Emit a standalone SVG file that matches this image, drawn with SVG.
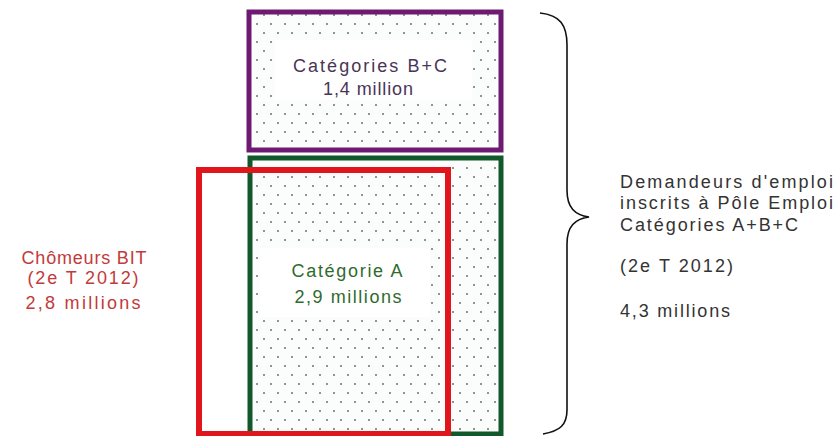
<svg xmlns="http://www.w3.org/2000/svg" width="834" height="436" viewBox="0 0 834 436">
<style>
text{font-family:"Liberation Sans",Arial,sans-serif;font-size:18px;text-anchor:middle}
.pt{fill:#4a3556}
.gt{fill:#2f6b2f}
.rt{fill:#c23a3a}
.kt{fill:#333;text-anchor:start}
.box{fill:url(#dots)}
.bg{fill:#fff}
</style>
<defs>
<pattern id="dots" patternUnits="userSpaceOnUse" width="14" height="18" x="3" y="4">
<rect width="14" height="18" fill="#fbfdfd"/>
<circle cx="2" cy="2" r="1" fill="#707070"/>
<circle cx="9" cy="11" r="1" fill="#707070"/>
</pattern>
</defs>
<rect width="834" height="436" fill="#fff"/>
<g id="bc">
<rect class="box" x="249" y="12" width="252" height="138"/>
<rect class="bg" x="275" y="40" width="197" height="60"/>
<rect x="249" y="12" width="252" height="138" fill="none" stroke="#6e1a72" stroke-width="5"/>
<text class="pt" x="370" y="72" textLength="154" lengthAdjust="spacing">Catégories B+C</text>
<text class="pt" x="368" y="95" textLength="90" lengthAdjust="spacing">1,4 million</text>
</g>
<g id="a">
<rect class="box" x="250" y="158" width="251" height="276"/>
<rect class="bg" x="260" y="248" width="170" height="69"/>
<rect x="250" y="158" width="251" height="276" fill="none" stroke="#11592a" stroke-width="5"/>
<text class="gt" x="347" y="277" textLength="111" lengthAdjust="spacing">Catégorie A</text>
<text class="gt" x="348" y="303" textLength="107" lengthAdjust="spacing">2,9 millions</text>
</g>
<g id="bit">
<rect x="199" y="170" width="249" height="264" fill="none" stroke="#e0161c" stroke-width="6"/>
<text class="rt" x="84" y="264" textLength="125" lengthAdjust="spacing">Chômeurs BIT</text>
<text class="rt" x="83" y="284" textLength="111" lengthAdjust="spacing">(2e T 2012)</text>
<text class="rt" x="83" y="309" textLength="115" lengthAdjust="spacing">2,8 millions</text>
</g>
<g id="connectors">
<path d="M540,13 C560,15 567,25 567,45 L567,190 C567,208 575,215 589,217 C575,219 567,226 567,244 L567,410 C567,425 560,431 543,434" fill="none" stroke="#111" stroke-width="1.6"/>
</g>
<g id="total">
<text class="kt" x="620" y="188" textLength="213" lengthAdjust="spacing">Demandeurs d'emploi</text>
<text class="kt" x="620" y="209" textLength="213" lengthAdjust="spacing">inscrits à Pôle Emploi</text>
<text class="kt" x="620" y="231" textLength="178" lengthAdjust="spacing">Catégories A+B+C</text>
<text class="kt" x="620" y="272" textLength="113" lengthAdjust="spacing">(2e T 2012)</text>
<text class="kt" x="620" y="317" textLength="110" lengthAdjust="spacing">4,3 millions</text>
</g>
</svg>
